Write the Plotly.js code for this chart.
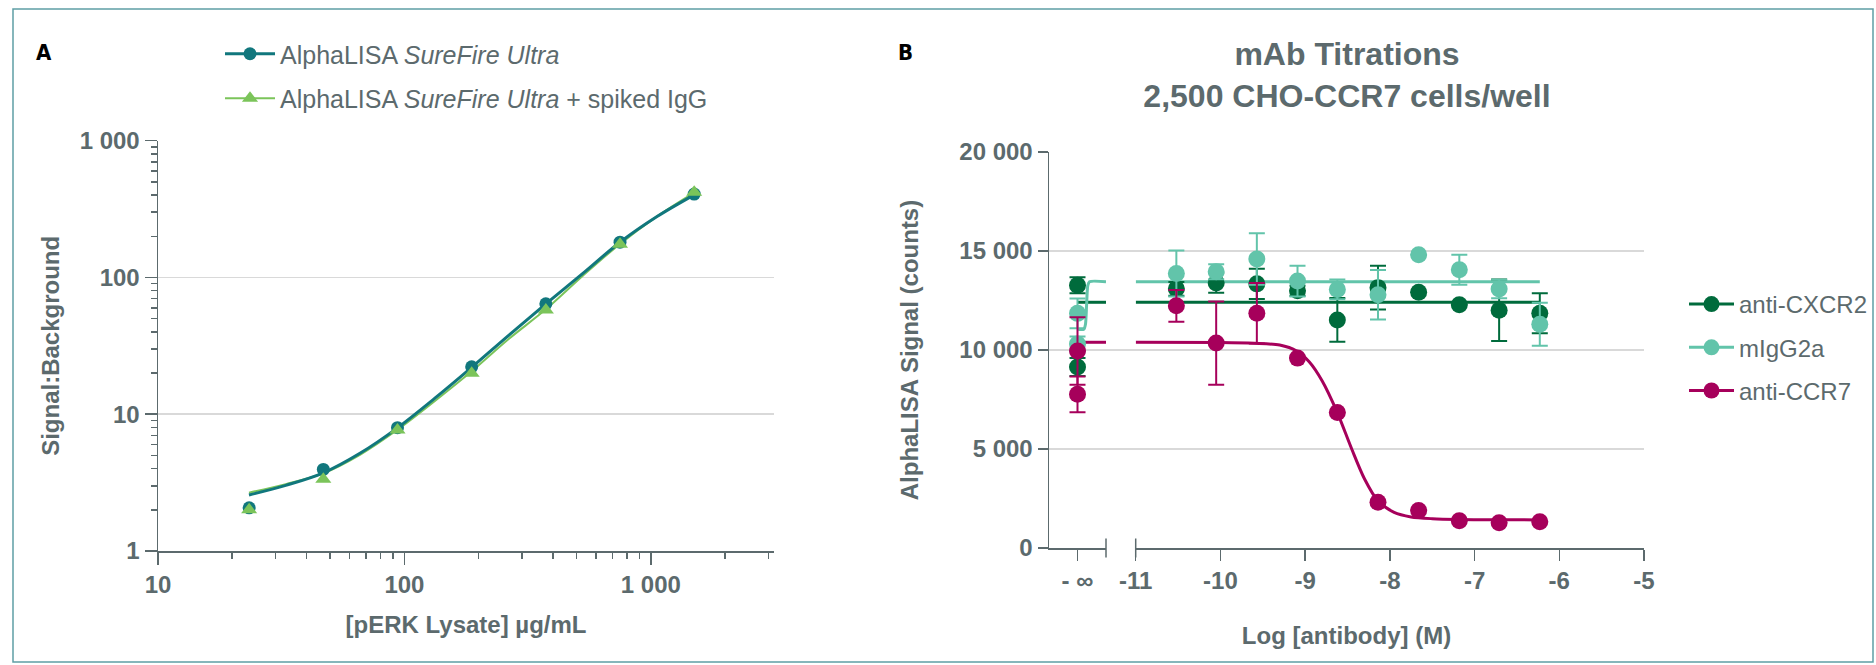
<!DOCTYPE html>
<html>
<head>
<meta charset="utf-8">
<script src="https://cdn.plot.ly/plotly-3.0.1.min.js"></script>
<style>
html,body{margin:0;padding:0;background:#ffffff;}
#chart{width:1876px;height:665px;}
</style>
</head>
<body>
<div id="chart"></div>
<script>
// ---------------- Panel A data ----------------
const lysate = [23.4375, 46.875, 93.75, 187.5, 375, 750, 1500];
const sbUltra = [2.07, 3.95, 7.97, 22.2, 64.2, 181, 407];
const sbSpiked = [2.0, 3.34, 7.66, 19.9, 57.8, 175, 420];
const fitLysate = [23.4, 33, 46.9, 66, 93.75, 133, 187.5, 265, 375, 530, 750, 1060, 1500];
const fitUltra = [2.57, 3.02, 3.73, 5.18, 7.95, 13.1, 22.0, 37.7, 64, 107, 181, 279, 402];
const fitSpiked = [2.67, 3.08, 3.70, 5.05, 7.70, 12.5, 20.6, 35.5, 58.5, 103, 176, 280, 418];
const lysTicks = [10, 100, 1000];
const lysTickText = ['10', '100', '1 000'];
const lysMinorTicks = [20,30,40,50,60,70,80,90,200,300,400,500,600,700,800,900,2000,3000];
const sbTicks = [1, 10, 100, 1000];
const sbTickText = ['1', '10', '100', '1 000'];
const sbMinorTicks = [2,3,4,5,6,7,8,9,20,30,40,50,60,70,80,90,200,300,400,500,600,700,800,900];
const seriesA = ['AlphaLISA <i>SureFire Ultra</i>', 'AlphaLISA <i>SureFire Ultra</i> + spiked IgG'];

// ---------------- Panel B data ----------------
const seriesB = ['anti-CXCR2', 'mIgG2a', 'anti-CCR7'];
const logAb = [-10.52, -10.05, -9.57, -9.09, -8.62, -8.14, -7.66, -7.18, -6.71, -6.23];
const cxcr2 = [13090, 13390, 13340, 12990, 11520, 13150, 12920, 12280, 12010, 11860];
const cxcr2Err = [350, 500, 760, 250, 1100, 1100, null, null, 1550, 1010];
const igg = [13860, 13950, 14600, 13480, 13060, 12790, 14810, 14050, 13080, 11300];
const iggErr = [1160, 380, 1300, 780, 500, 1250, null, 760, 470, 1090];
const ccr7 = [12230, 10350, 11860, 9590, 6840, 2310, 1890, 1380, 1280, 1330];
const ccr7Err = [800, 2100, 1530, null, null, null, null, null, null, null];
// no-antibody controls, plotted at "- infinity"
const ctrlX = [0, 0];
const cxcr2Ctrl = [13270, 9140];
const cxcr2CtrlErr = [400, 450];
const iggCtrl = [11850, 10300];
const iggCtrlErr = [750, 380];
const ccr7Ctrl = [9950, 7760];
const ccr7CtrlErr = [1700, 900];
// fitted curves
const fitLineX = [-11, -6.23];
const cxcr2FitY = [12410, 12410];
const iggFitY = [13450, 13450];
const ccr7FitX = [-11, -10, -9.6, -9.3, -9.1, -8.95, -8.8, -8.62, -8.45, -8.3, -8.14, -7.95, -7.75, -7.5, -7.2, -6.23];
const ccr7FitY = [10390, 10380, 10340, 10250, 9950, 9400, 8450, 6840, 5000, 3500, 2380, 1800, 1570, 1480, 1440, 1420];
const ctrlFitX = [0, 1];
const cxcr2CtrlFitY = [12410, 12410];
const iggCtrlFitX = [0, 0.22, 0.28, 0.32, 0.36, 0.42, 1];
const iggCtrlFitY = [11045, 11045, 11300, 12300, 13250, 13450, 13450];
const ccr7CtrlFitX = [0.08, 1];
const ccr7CtrlFitY = [10390, 10390];
const abTicks = [-11, -10, -9, -8, -7, -6, -5];
const abTickText = ['-11', '-10', '-9', '-8', '-7', '-6', '-5'];
const ctrlTickText = ['- ∞'];
const sigTicks = [0, 5000, 10000, 15000, 20000];
const sigTickText = ['0', '5 000', '10 000', '15 000', '20 000'];

// ---------------- styles ----------------
const W = 1876, H = 665;
const fx = v => v / W;
const fy = v => 1 - v / H;
const FONT = 'Liberation Sans, Arial, sans-serif';
const textColor = '#5c6a6d';
const axisColor = '#5c6a6d';
const gridColor = '#d9d9d9';
const teal = '#11777d';
const green = '#7bc45a';
const cDark = '#006b3c';
const cLight = '#62c4aa';
const cMag = '#a6005b';

const tickFont = {family: FONT, size: 24, color: textColor, weight: 'bold'};
const titleFont = {family: FONT, size: 24, color: textColor, weight: 'bold'};

const traces = [];
// Panel A fits
traces.push({x: fitLysate, y: fitSpiked, xaxis: 'x', yaxis: 'y', mode: 'lines',
  line: {color: green, width: 2, shape: 'spline'}, showlegend: false, hoverinfo: 'skip'});
traces.push({x: fitLysate, y: fitUltra, xaxis: 'x', yaxis: 'y', mode: 'lines',
  line: {color: teal, width: 3, shape: 'spline'}, showlegend: false, hoverinfo: 'skip'});
// Panel A data
traces.push({x: lysate, y: sbUltra, xaxis: 'x', yaxis: 'y', mode: 'markers',
  marker: {symbol: 'circle', size: 13, color: teal}, showlegend: false});
traces.push({x: lysate, y: sbSpiked, xaxis: 'x', yaxis: 'y', mode: 'markers',
  marker: {symbol: 'triangle-up', size: 14, color: green}, showlegend: false});
// Panel A legend entries
traces.push({x: [null], y: [null], xaxis: 'x', yaxis: 'y', mode: 'lines+markers', name: seriesA[0],
  legend: 'legend', legendgroup: 'a1', line: {color: teal, width: 3}, marker: {symbol: 'circle', size: 13, color: teal}});
traces.push({x: [null], y: [null], xaxis: 'x', yaxis: 'y', mode: 'lines+markers', name: seriesA[1],
  legend: 'legend', legendgroup: 'a2', line: {color: green, width: 2}, marker: {symbol: 'triangle-up', size: 14, color: green}});

// Panel B grid helper subplot (full width)
traces.push({x: [null], y: [null], xaxis: 'x2', yaxis: 'y2', mode: 'markers', showlegend: false, hoverinfo: 'skip'});

function errObj(arr, color) {
  return {type: 'data', array: arr, visible: true, color: color, thickness: 2, width: 8};
}
const bSeries = [
  {name: seriesB[0], color: cDark, y: cxcr2, err: cxcr2Err, cy: cxcr2Ctrl, cerr: cxcr2CtrlErr,
   fx: fitLineX, fy: cxcr2FitY, cfx: ctrlFitX, cfy: cxcr2CtrlFitY},
  {name: seriesB[1], color: cLight, y: igg, err: iggErr, cy: iggCtrl, cerr: iggCtrlErr,
   fx: fitLineX, fy: iggFitY, cfx: iggCtrlFitX, cfy: iggCtrlFitY},
  {name: seriesB[2], color: cMag, y: ccr7, err: ccr7Err, cy: ccr7Ctrl, cerr: ccr7CtrlErr,
   fx: ccr7FitX, fy: ccr7FitY, cfx: ccr7CtrlFitX, cfy: ccr7CtrlFitY}
];
// fit lines
bSeries.forEach(s => {
  traces.push({x: s.fx, y: s.fy, xaxis: 'x4', yaxis: 'y2', mode: 'lines',
    line: {color: s.color, width: 3, shape: 'spline', smoothing: 0.8}, showlegend: false, hoverinfo: 'skip'});
  traces.push({x: s.cfx, y: s.cfy, xaxis: 'x3', yaxis: 'y2', mode: 'lines',
    line: {color: s.color, width: 3, shape: 'spline', smoothing: 0.6}, showlegend: false, hoverinfo: 'skip'});
});
// data points
bSeries.forEach(s => {
  traces.push({x: logAb, y: s.y, xaxis: 'x4', yaxis: 'y2', mode: 'markers',
    marker: {size: 17, color: s.color}, error_y: errObj(s.err, s.color), showlegend: false});
  traces.push({x: ctrlX, y: s.cy, xaxis: 'x3', yaxis: 'y2', mode: 'markers',
    marker: {size: 17, color: s.color}, error_y: errObj(s.cerr, s.color), showlegend: false});
});
// legend entries B
bSeries.forEach((s, i) => {
  traces.push({x: [null], y: [null], xaxis: 'x4', yaxis: 'y2', mode: 'lines+markers', name: s.name,
    legend: 'legend2', legendgroup: 'b' + i, line: {color: s.color, width: 3}, marker: {size: 17, color: s.color}});
});

const baseAxis = {
  showline: true, linecolor: axisColor, linewidth: 1.5,
  ticks: 'outside', tickcolor: axisColor, tickwidth: 1.5,
  tickfont: tickFont, zeroline: false
};

const layout = {
  width: W, height: H,
  margin: {l: 0, r: 0, t: 0, b: 0},
  paper_bgcolor: '#ffffff', plot_bgcolor: 'rgba(0,0,0,0)',
  font: {family: FONT, color: textColor},
  showlegend: true,
  title: {
    text: 'mAb Titrations<br>2,500 CHO-CCR7 cells/well',
    font: {family: FONT, size: 32, color: textColor, weight: 'bold'},
    x: fx(1347), xanchor: 'center', y: fy(65), yanchor: 'top'
  },
  // ----- Panel A -----
  xaxis: Object.assign({}, baseAxis, {
    type: 'log', domain: [fx(158), fx(774)], range: [1, 3.5], anchor: 'y',
    tickmode: 'array', tickvals: lysTicks, ticktext: lysTickText, ticklen: 12,
    showgrid: false,
    minor: {tickmode: 'array', tickvals: lysMinorTicks, ticks: 'outside', ticklen: 6, tickwidth: 1.5, tickcolor: axisColor, showgrid: false},
    title: {text: '[pERK Lysate] µg/mL', font: titleFont, standoff: 19}
  }),
  yaxis: Object.assign({}, baseAxis, {
    type: 'log', domain: [fy(551), fy(140.7)], range: [0, 3], anchor: 'x',
    tickmode: 'array', tickvals: sbTicks, ticktext: sbTickText, ticklen: 12,
    showgrid: true, gridcolor: gridColor, gridwidth: 1.5,
    minor: {tickmode: 'array', tickvals: sbMinorTicks, ticks: 'outside', ticklen: 6, tickwidth: 1.5, tickcolor: axisColor, showgrid: false},
    title: {text: 'Signal:Background', font: titleFont, standoff: 13}
  }),
  // ----- Panel B -----
  xaxis2: {
    domain: [fx(1049), fx(1644)], range: [0, 1], anchor: 'y2',
    showline: false, showgrid: false, zeroline: false, ticks: '', showticklabels: false,
    title: {text: 'Log [antibody] (M)', font: titleFont, standoff: 79}
  },
  xaxis3: Object.assign({}, baseAxis, {
    domain: [fx(1049), fx(1106)], range: [-1, 1], anchor: 'y2',
    tickmode: 'array', tickvals: [0], ticktext: ctrlTickText, ticklen: 11, showgrid: false
  }),
  xaxis4: Object.assign({}, baseAxis, {
    domain: [fx(1135.7), fx(1644)], range: [-11, -5], anchor: 'y2',
    tickmode: 'array', tickvals: abTicks, ticktext: abTickText, ticklen: 11, showgrid: false
  }),
  yaxis2: Object.assign({}, baseAxis, {
    domain: [fy(548), fy(152)], range: [0, 20000], anchor: 'x2',
    tickmode: 'array', tickvals: sigTicks, ticktext: sigTickText, ticklen: 10,
    showgrid: true, gridcolor: gridColor, gridwidth: 1.5,
    title: {text: 'AlphaLISA Signal (counts)', font: titleFont, standoff: 34}
  }),
  legend: {
    x: fx(220), xanchor: 'left', y: fy(31), yanchor: 'top', itemwidth: 50,
    font: {family: FONT, size: 25, color: textColor},
    bgcolor: 'rgba(0,0,0,0)', borderwidth: 0, tracegroupgap: 9, traceorder: 'grouped'
  },
  legend2: {
    x: fx(1684), xanchor: 'left', y: fy(282), yanchor: 'top', itemwidth: 45,
    font: {family: FONT, size: 24, color: textColor},
    bgcolor: 'rgba(0,0,0,0)', borderwidth: 0, tracegroupgap: 9, traceorder: 'grouped'
  },
  annotations: [
    {text: 'A', xref: 'paper', yref: 'paper', x: fx(44), y: fy(53), xanchor: 'center', yanchor: 'middle',
     showarrow: false, font: {family: 'DejaVu Sans Condensed, DejaVu Sans, sans-serif', size: 22, color: '#000000', weight: 'bold'}},
    {text: 'B', xref: 'paper', yref: 'paper', x: fx(905), y: fy(53), xanchor: 'center', yanchor: 'middle',
     showarrow: false, font: {family: 'DejaVu Sans Condensed, DejaVu Sans, sans-serif', size: 22, color: '#000000', weight: 'bold'}}
  ],
  shapes: [
    {type: 'rect', xref: 'paper', yref: 'paper', x0: fx(13), x1: fx(1873), y0: fy(662), y1: fy(9),
     line: {color: '#5f9ea5', width: 1.5}, fillcolor: 'rgba(0,0,0,0)', layer: 'below'},
    {type: 'line', xref: 'x3 domain', yref: 'y2 domain', x0: 1, x1: 1, y0: -0.024, y1: 0.024,
     line: {color: axisColor, width: 1.5}},
    {type: 'line', xref: 'x4 domain', yref: 'y2 domain', x0: 0, x1: 0, y0: -0.024, y1: 0.024,
     line: {color: axisColor, width: 1.5}}
  ]
};

Plotly.newPlot('chart', traces, layout, {displayModeBar: false, staticPlot: true});
</script>
</body>
</html>
